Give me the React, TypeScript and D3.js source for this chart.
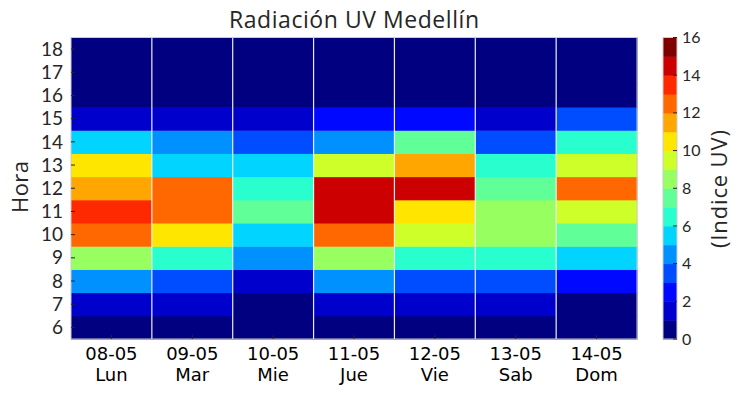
import React from "react";
import * as d3 from "d3";

const days = ["08-05", "09-05", "10-05", "11-05", "12-05", "13-05", "14-05"];
const weekdays = ["Lun", "Mar", "Mie", "Jue", "Vie", "Sab", "Dom"];
const hours = [6, 7, 8, 9, 10, 11, 12, 13, 14, 15, 16, 17, 18];
// UV index per day, hours 6..18
const lun = [0, 1, 4, 8, 12, 13, 11, 10, 5, 1, 0, 0, 0];
const mar = [0, 1, 3, 6, 10, 12, 12, 5, 4, 1, 0, 0, 0];
const mie = [0, 0, 1, 4, 5, 7, 6, 5, 3, 1, 0, 0, 0];
const jue = [0, 1, 4, 8, 12, 14, 14, 9, 4, 2, 0, 0, 0];
const vie = [0, 1, 3, 6, 9, 10, 14, 11, 7, 2, 0, 0, 0];
const sab = [0, 1, 3, 6, 8, 8, 7, 6, 3, 1, 0, 0, 0];
const dom = [0, 0, 2, 5, 7, 9, 12, 9, 6, 3, 0, 0, 0];
const series = [lun, mar, mie, jue, vie, sab, dom];
const cbTicks = [0, 2, 4, 6, 8, 10, 12, 14, 16];
const levels = d3.range(16);

const red = d3.scaleLinear().domain([0, 0.35, 0.66, 0.89, 1]).range([0, 0, 1, 1, 0.5]);
const green = d3.scaleLinear().domain([0, 0.125, 0.375, 0.64, 0.91, 1]).range([0, 0, 1, 1, 0, 0]);
const blue = d3.scaleLinear().domain([0, 0.11, 0.34, 0.65, 1]).range([0.5, 1, 1, 0, 0]);
const jet = (t: number) =>
  d3.rgb(Math.round(red(t) * 255), Math.round(green(t) * 255), Math.round(blue(t) * 255)).toString();
const levelColor = (v: number) => jet(Math.max(0, Math.min(15, Math.floor(v))) / 15);

const W = 743, H = 395;
const px0 = 71, px1 = 637, py0 = 37.5, py1 = 339;
const cbx0 = 663, cbx1 = 677;

export default function App() {
  const x = d3.scaleBand<string>().domain(days).range([px0, px1]).padding(0);
  const y = d3.scaleBand<number>().domain(hours).range([py1, py0]).padding(0);
  const cy = d3.scaleLinear().domain([0, 16]).range([py1, py0]);
  const lato = "Lato, 'Open Sans', sans-serif";
  const open = "'Open Sans', Lato, sans-serif";
  const dejavu = "'DejaVu Sans', sans-serif";
  return (
    <svg width={W} height={H} style={{ position: "absolute", left: 0, top: 0 }}>
      <rect x={0} y={0} width={W} height={H} fill="white" />
      <text
        x={354}
        y={27.5}
        textAnchor="middle"
        fontFamily={open}
        fontSize={23}
        fill="#262626"
        textLength={250}
        lengthAdjust="spacing"
      >
        Radiación UV Medellín
      </text>
      {series.map((col, i) =>
        col.map((v, j) => (
          <rect
            key={`${i}-${j}`}
            x={x(days[i])!}
            y={y(hours[j])!}
            width={x.bandwidth() + 0.5}
            height={y.bandwidth() + 0.5}
            fill={levelColor(v)}
          />
        ))
      )}
      {days.slice(1).map((d) => (
        <line key={d} x1={x(d)!} x2={x(d)!} y1={py0} y2={py1} stroke="#ececec" strokeWidth={1.2} />
      ))}
      <rect x={px0} y={py0} width={px1 - px0} height={py1 - py0} fill="none" stroke="#cccccc" strokeWidth={1} />
      {hours.map((h) => {
        const yc = y(h)! + y.bandwidth() / 2;
        return (
          <g key={h}>
            <line x1={px0} x2={px0 + 4} y1={yc} y2={yc} stroke="#262626" strokeWidth={1} />
            <text x={63} y={yc} dy="0.35em" textAnchor="end" fontFamily={lato} fontSize={19} fill="#262626">
              {h}
            </text>
          </g>
        );
      })}
      {days.map((d, i) => {
        const xc = x(d)! + x.bandwidth() / 2;
        return (
          <g key={d}>
            <line x1={xc} x2={xc} y1={py1} y2={py1 - 4} stroke="#262626" strokeWidth={1} />
            <text x={xc} y={360} textAnchor="middle" fontFamily={dejavu} fontSize={18} fill="#000">
              {d}
            </text>
            <text x={xc} y={381} textAnchor="middle" fontFamily={dejavu} fontSize={18} fill="#000">
              {weekdays[i]}
            </text>
          </g>
        );
      })}
      <text
        transform={`translate(28,187) rotate(-90)`}
        textAnchor="middle"
        fontFamily={open}
        fontSize={22}
        fill="#262626"
        textLength={52}
        lengthAdjust="spacing"
      >
        Hora
      </text>
      {levels.map((l) => (
        <rect
          key={l}
          x={cbx0}
          y={cy(l + 1)}
          width={cbx1 - cbx0}
          height={cy(l) - cy(l + 1) + 0.5}
          fill={levelColor(l)}
        />
      ))}
      <rect x={cbx0} y={py0} width={cbx1 - cbx0} height={py1 - py0} fill="none" stroke="#cccccc" strokeWidth={1} />
      {cbTicks.map((t) => (
        <g key={t}>
          <line x1={cbx1 - 4} x2={cbx1} y1={cy(t)} y2={cy(t)} stroke="#262626" strokeWidth={1} />
          <text x={682} y={cy(t)} dy="0.35em" fontFamily={lato} fontSize={16} fill="#262626">
            {t}
          </text>
        </g>
      ))}
      <text
        transform={`translate(727,189) rotate(-90)`}
        textAnchor="middle"
        fontFamily={open}
        fontSize={22}
        fill="#262626"
        textLength={118}
        lengthAdjust="spacing"
      >
        (Indice UV)
      </text>
    </svg>
  );
}
